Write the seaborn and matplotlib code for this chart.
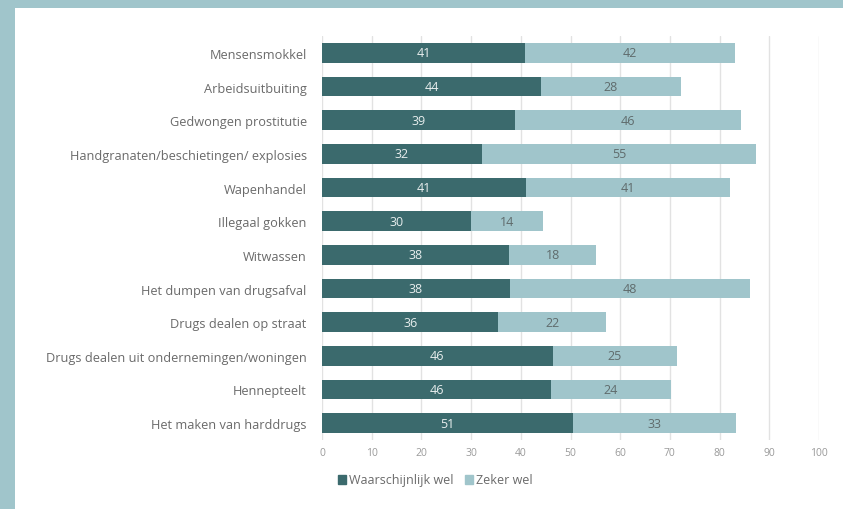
import matplotlib
matplotlib.use("Agg")
import matplotlib.pyplot as plt
from matplotlib.patches import Rectangle, Patch
import seaborn as sns
import pandas as pd

categories = [
    "Mensensmokkel",
    "Arbeidsuitbuiting",
    "Gedwongen prostitutie",
    "Handgranaten/beschietingen/ explosies",
    "Wapenhandel",
    "Illegaal gokken",
    "Witwassen",
    "Het dumpen van drugsafval",
    "Drugs dealen op straat",
    "Drugs dealen uit ondernemingen/woningen",
    "Hennepteelt",
    "Het maken van harddrugs",
]
waarschijnlijk = [40.8, 44.1, 38.8, 32.2, 41.0, 30.0, 37.6, 37.8, 35.5, 46.4, 46.1, 50.6]
zeker = [42.3, 28.1, 45.6, 55.1, 41.1, 14.4, 17.6, 48.3, 21.7, 25.0, 24.1, 32.8]

dark = "#3b6a6d"
light = "#a0c5cb"
grey = "#6a6a6a"

df = pd.DataFrame({"cat": categories, "w": waarschijnlijk, "z": zeker})
df["total"] = df["w"] + df["z"]

sns.set_style("white")
plt.rcParams["font.family"] = ["Open Sans", "DejaVu Sans"]

fig = plt.figure(figsize=(8.43, 5.10), dpi=100)
fig.patch.set_facecolor(light)
fig.patches.append(Rectangle((15 / 843, 0), 1, (510 - 9) / 510, transform=fig.transFigure,
                             facecolor="white", edgecolor="none", zorder=-10))

ax = fig.add_axes([322 / 843, 1 - 441 / 510, (819 - 322) / 843, (441 - 37) / 510])
ax.set_facecolor("none")

# stacked: full total in light, dark part on top
sns.barplot(data=df, x="total", y="cat", color=light, orient="h", width=0.58,
            linewidth=0, saturation=1, ax=ax, zorder=2)
sns.barplot(data=df, x="w", y="cat", color=dark, orient="h", width=0.58,
            linewidth=0, saturation=1, ax=ax, zorder=3)

for i, row in df.iterrows():
    ax.text(row["w"] / 2, i, f"{round(row['w'])}", ha="center", va="center",
            color="#e8eeee", fontsize=9, zorder=4)
    ax.text(row["w"] + row["z"] / 2, i, f"{round(row['z'])}", ha="center", va="center",
            color="#5f6b6c", fontsize=9, zorder=4)

ax.set_xlim(0, 100)
ax.set_ylim(11.5, -0.5)
ax.set_xticks(range(0, 101, 10))
ax.grid(axis="x", color="#e2e2e2", linewidth=1, zorder=0)
ax.set_axisbelow(True)
for s in ax.spines.values():
    s.set_visible(False)
ax.set_xlabel("")
ax.set_ylabel("")
ax.tick_params(axis="x", colors="#9a9a9a", labelsize=7.5, length=0, pad=5)
ax.tick_params(axis="y", colors=grey, labelsize=9.2, length=0, pad=11)

handles = [Patch(color=dark, label="Waarschijnlijk wel"), Patch(color=light, label="Zeker wel")]
leg = fig.legend(handles=handles, loc="center", bbox_to_anchor=(435 / 843, 1 - 481 / 510),
                 ncol=2, frameon=False, fontsize=9, handlelength=0.7, handleheight=0.7,
                 handletextpad=0.2, columnspacing=0.9)
for t in leg.get_texts():
    t.set_color(grey)

fig.savefig("out.png", dpi=100)
